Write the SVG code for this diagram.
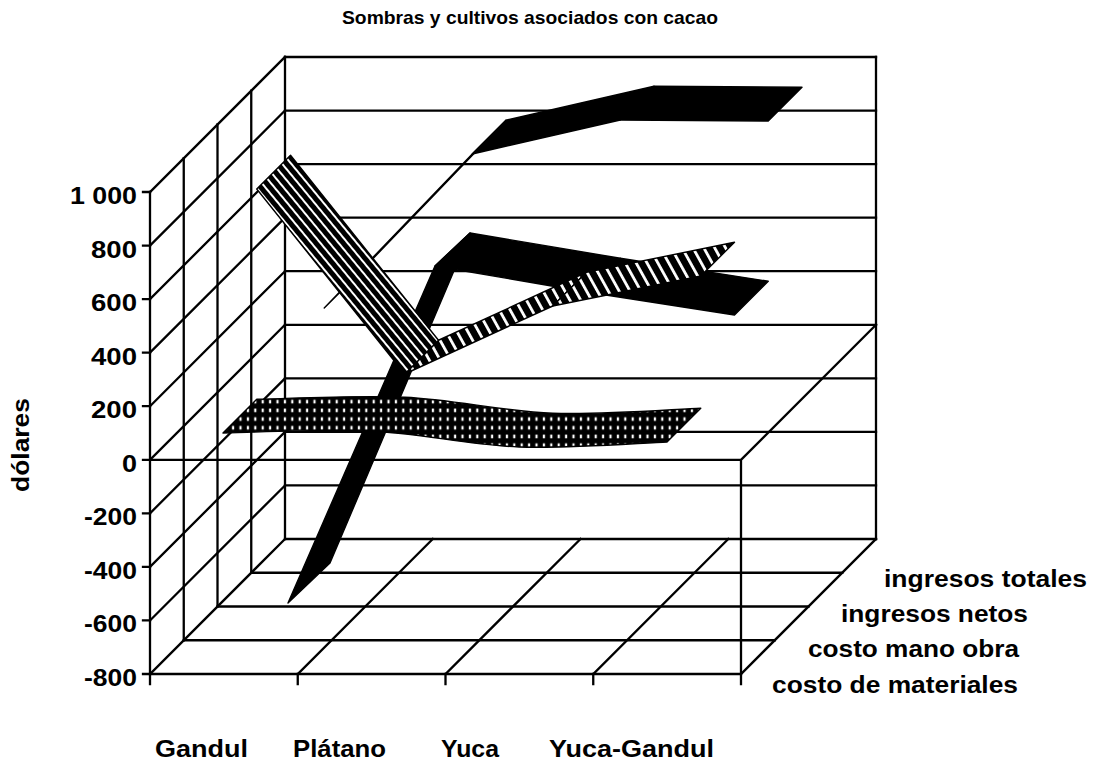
<svg xmlns="http://www.w3.org/2000/svg" width="1103" height="760" viewBox="0 0 1103 760">
  <style>
    .g { stroke: #000; stroke-width: 2.3; fill: none; stroke-linecap: square; }
    .t { font-family: "Liberation Sans", Arial, sans-serif; font-weight: bold; fill: #000; }
    .lab { font-size: 23px; }
    .rib { stroke: #000; stroke-width: 1.4; stroke-linejoin: round; }
  </style>
  <defs>
    <pattern id="pGrid" patternUnits="userSpaceOnUse" x="0" y="397.35" width="7.4" height="8.7">
      <rect width="7.4" height="8.7" fill="#000"/>
      <rect x="2.6" y="2.5" width="2.2" height="3.6" fill="#fff"/>
    </pattern>
    <pattern id="pStripeA" patternUnits="userSpaceOnUse" width="7" height="20" patternTransform="rotate(-39.6)">
      <rect width="7" height="20" fill="#000"/>
      <rect x="0" width="2" height="20" fill="#fff"/>
    </pattern>
    <pattern id="pStripeB" patternUnits="userSpaceOnUse" width="9.5" height="20" patternTransform="rotate(-29)">
      <rect width="9.5" height="20" fill="#000"/>
      <rect x="0" width="2.8" height="20" fill="#fff"/>
    </pattern>
  </defs>
  <rect width="1103" height="760" fill="#fff"/>

  <text class="t" x="530" y="23.5" font-size="19" text-anchor="middle" textLength="376" lengthAdjust="spacingAndGlyphs">Sombras y cultivos asociados con cacao</text>

  <g id="grid">
    <path class="g" d="M285,539H876 M285,485.44H876 M285,431.89H876 M285,378.33H876 M285,324.78H876 M285,271.22H876 M285,217.67H876 M285,164.11H876 M285,110.56H876 M285,57H876"/>
    <path class="g" d="M285,57V539 M876,57V539"/>
    <path class="g" d="M150,674L285,539 M150,620.44L285,485.44 M150,566.89L285,431.89 M150,513.33L285,378.33 M150,459.78L285,324.78 M150,406.22L285,271.22 M150,352.67L285,217.67 M150,299.11L285,164.11 M150,245.56L285,110.56 M150,192L285,57"/>
    <path class="g" d="M183.75,158.25V640.25 M217.5,124.5V606.5 M251.25,90.75V572.75"/>
    <path class="g" d="M183.75,640.25H774.75 M217.5,606.5H808.5 M251.25,572.75H842.25"/>
    <path class="g" d="M297.75,674L432.75,539 M445.5,674L580.5,539 M593.25,674L728.25,539 M741,674L876,539"/>
    <path class="g" d="M150,192V674H741 M150,459.78H741 M741,459.78V674 M741,459.78L876,324.78"/>
    <path class="g" d="M143,192H150 M143,245.56H150 M143,299.11H150 M143,352.67H150 M143,406.22H150 M143,459.78H150 M143,513.33H150 M143,566.89H150 M143,620.44H150 M143,674H150"/>
    <path class="g" d="M150,674V684 M297.75,674V684 M445.5,674V684 M593.25,674V684 M741,674V684"/>
  </g>

  <g id="ingresos-totales">
    <polygon class="rib" fill="#000" stroke-width="2" points="324.25,308 472.25,154 506,120.25 358,274.25"/>
    <polygon class="rib" fill="#000" points="472.25,154 620.25,120 654,86.25 506,120.25"/>
    <polygon class="rib" fill="#000" points="620.25,120 768.25,121 802,87.25 654,86.25"/>
  </g>

  <g id="ingresos-netos">
    <polygon class="rib" fill="#000" points="288,603 435,266 470,233 330,563"/>
    <polygon class="rib" fill="#000" points="435,266 586.5,292 620.25,258.25 470,233"/>
    <polygon class="rib" fill="#000" points="586.5,292 734.5,315 768.25,281.25 620.25,258.25"/>
  </g>

  <g id="costo-mano-obra">
    <polygon class="rib" fill="url(#pStripeB)" points="404.75,374 552.75,306 586.5,272.25 438.5,340.25"/>
    <polygon class="rib" fill="url(#pStripeB)" points="552.75,306 700.75,276 734.5,242.25 586.5,272.25"/>
    <polygon class="rib" fill="url(#pStripeA)" stroke-width="2" points="256.75,189 404.75,374 438.5,340.25 290.5,155.25"/>
  </g>

  <g id="costo-de-materiales">
    <path class="rib" fill="url(#pGrid)" stroke-width="1.8" d="M223,433 C247.7,432.7 321.7,428.7 371,431 C420.3,433.3 469.7,445.2 519,447 C568.3,448.8 642.3,442.8 667,442 L700.75,408.25 C676.05,409.050 602.05,415.05 552.75,413.25 C503.45,411.45 454.05,399.55 404.75,397.25 C355.45,394.95 281.45,398.95 256.75,399.25 Z"/>
  </g>

  <g id="y-axis-labels" class="t lab" text-anchor="end">
    <text x="137" y="204" textLength="67" lengthAdjust="spacingAndGlyphs">1 000</text>
    <text x="137" y="257.6" textLength="46" lengthAdjust="spacingAndGlyphs">800</text>
    <text x="137" y="311.1" textLength="46" lengthAdjust="spacingAndGlyphs">600</text>
    <text x="137" y="364.7" textLength="46" lengthAdjust="spacingAndGlyphs">400</text>
    <text x="137" y="418.2" textLength="46" lengthAdjust="spacingAndGlyphs">200</text>
    <text x="137" y="471.8" textLength="15" lengthAdjust="spacingAndGlyphs">0</text>
    <text x="137" y="525.3" textLength="53" lengthAdjust="spacingAndGlyphs">-200</text>
    <text x="137" y="578.9" textLength="53" lengthAdjust="spacingAndGlyphs">-400</text>
    <text x="137" y="632.4" textLength="53" lengthAdjust="spacingAndGlyphs">-600</text>
    <text x="137" y="686" textLength="53" lengthAdjust="spacingAndGlyphs">-800</text>
  </g>

  <text class="t lab" transform="translate(29,445) rotate(-90)" text-anchor="middle" textLength="94" lengthAdjust="spacingAndGlyphs">dólares</text>

  <g id="x-axis-labels" class="t lab">
    <text x="155" y="757" textLength="93" lengthAdjust="spacingAndGlyphs">Gandul</text>
    <text x="293" y="757" textLength="93" lengthAdjust="spacingAndGlyphs">Plátano</text>
    <text x="441" y="757" textLength="58" lengthAdjust="spacingAndGlyphs">Yuca</text>
    <text x="549" y="757" textLength="165" lengthAdjust="spacingAndGlyphs">Yuca-Gandul</text>
  </g>

  <g id="series-labels" class="t lab">
    <text x="884" y="587" textLength="203" lengthAdjust="spacingAndGlyphs">ingresos totales</text>
    <text x="841" y="622" textLength="187" lengthAdjust="spacingAndGlyphs">ingresos netos</text>
    <text x="808" y="657" textLength="211" lengthAdjust="spacingAndGlyphs">costo mano obra</text>
    <text x="772" y="693" textLength="246" lengthAdjust="spacingAndGlyphs">costo de materiales</text>
  </g>
</svg>
